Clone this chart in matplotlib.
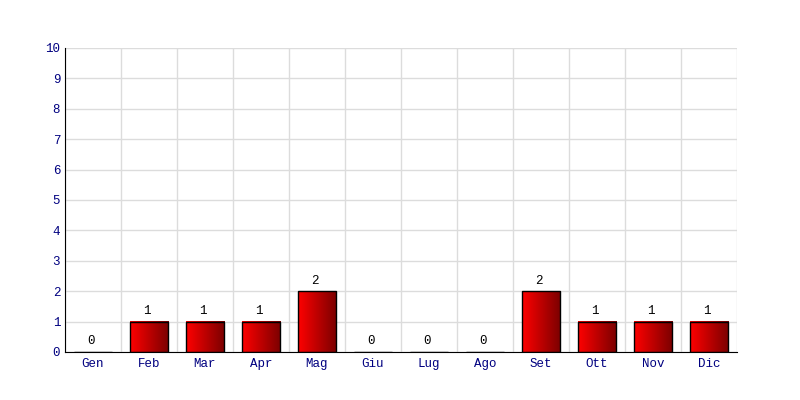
import matplotlib

matplotlib.use("Agg")
import matplotlib.pyplot as plt
import numpy as np
from matplotlib.colors import LinearSegmentedColormap

months = ["Gen", "Feb", "Mar", "Apr", "Mag", "Giu", "Lug", "Ago",
          "Set", "Ott", "Nov", "Dic"]
counts = [0, 1, 1, 1, 2, 0, 0, 0, 2, 1, 1, 1]
yticks = list(range(0, 11))

plt.rcParams["font.family"] = ["Liberation Mono", "DejaVu Sans Mono"]

fig = plt.figure(figsize=(8, 4), dpi=100)
ax = fig.add_axes([0.08125, 0.12, 0.84, 0.76])

x = np.arange(len(months))
width = 0.68
cmap = LinearSegmentedColormap.from_list("redgrad", ["#ff0000", "#7a0000"])
grad = np.linspace(0, 1, 256).reshape(1, -1)

for xi, v in zip(x, counts):
    if v > 0:
        ax.imshow(grad, cmap=cmap, aspect="auto", interpolation="bilinear",
                  extent=(xi - width / 2, xi + width / 2, 0, v), zorder=2)
ax.bar(x, counts, width=width, facecolor="none", edgecolor="black",
       linewidth=1.0, zorder=3)

for xi, v in zip(x, counts):
    ax.text(xi - 0.03, v + 0.15, str(v), ha="center", va="bottom",
            fontsize=9, color="black")

ax.set_xlim(-0.5, len(months) - 0.5)
ax.set_ylim(0, 10)
ax.set_xticks(x)
ax.set_xticklabels(months)
ax.set_yticks(yticks)
ax.set_xticks(np.arange(len(months) + 1) - 0.5, minor=True)
ax.tick_params(axis="both", which="both", length=0, colors="#000080",
               labelsize=9)
ax.tick_params(axis="x", pad=4)
ax.grid(True, which="minor", axis="x", color="#dcdcdc", lw=1)
ax.grid(True, which="major", axis="y", color="#dcdcdc", lw=1)
ax.set_axisbelow(True)
for s in ("top", "right"):
    ax.spines[s].set_visible(False)
ax.spines["left"].set_color("black")
ax.spines["bottom"].set_color("black")

fig.savefig("out.png", dpi=100)
